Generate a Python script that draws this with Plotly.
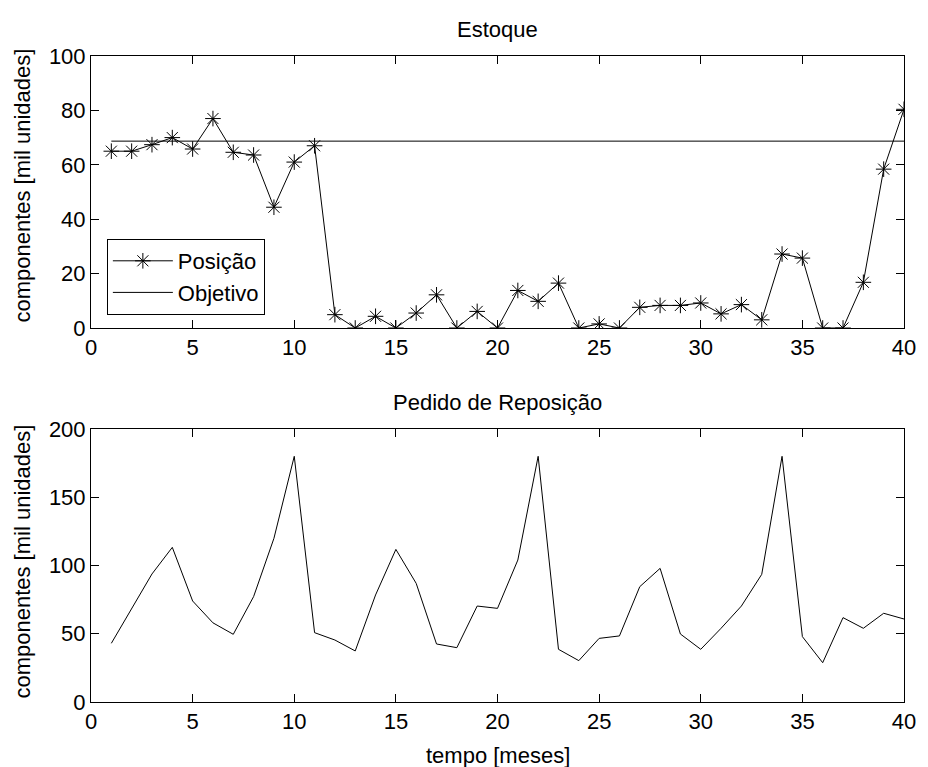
import plotly.graph_objects as go

meses = list(range(1, 41))
posicao = [65, 65, 67.4, 70, 65.8, 77, 64.6, 63.6, 44.4, 61,
           67, 4.9, 0, 4.3, 0, 5.5, 12.2, 0, 6.1, 0,
           13.8, 9.8, 16.5, 0, 1.5, 0, 7.6, 8.3, 8.3, 9.2,
           5.2, 8.6, 3.0, 27.2, 25.7, 0, 0, 16.8, 58.4, 80.4]
objetivo = 68.7
pedido = [43, 68.6, 93.8, 113.3, 74, 58, 49.6, 77.2, 119.9, 180,
          50.8, 45.4, 37.4, 78.4, 111.8, 86.9, 42.5, 39.8, 70.3, 68.6,
          104, 180, 38.6, 30.3, 46.6, 48.4, 84.5, 97.9, 49.8, 38.6,
          54, 70.3, 93.5, 180, 47.9, 28.8, 61.8, 54, 65, 60.8]

FONT = "Liberation Sans, Arial, sans-serif"
FS = 22

fig = go.Figure()
fig.add_trace(go.Scatter(x=meses, y=posicao, mode="lines+markers", name="Posição",
                         line=dict(color="black", width=1),
                         marker=dict(symbol="asterisk-open", size=13,
                                     line=dict(color="black", width=1)),
                         xaxis="x", yaxis="y"))
fig.add_trace(go.Scatter(x=[meses[0], meses[-1]], y=[objetivo, objetivo], mode="lines",
                         name="Objetivo", line=dict(color="black", width=1),
                         xaxis="x", yaxis="y"))
fig.add_trace(go.Scatter(x=meses, y=pedido, mode="lines", showlegend=False,
                         line=dict(color="black", width=1),
                         xaxis="x2", yaxis="y2"))

ax_common = dict(showline=True, linecolor="black", linewidth=1, mirror="ticks",
                 ticks="inside", ticklen=8, tickcolor="black", showgrid=False,
                 zeroline=False, tickfont=dict(family=FONT, size=FS, color="black"))

top_dom = [(702 - 328) / 646, 1.0]
bot_dom = [0.0, (702 - 429) / 646]

fig.update_layout(
    width=928, height=767,
    margin=dict(l=91, r=17, t=56, b=65),
    paper_bgcolor="white", plot_bgcolor="white",
    font=dict(family=FONT, size=FS, color="black"),
    xaxis=dict(domain=[0, 1], range=[0, 40], dtick=5, anchor="y", **ax_common),
    yaxis=dict(domain=top_dom, range=[0, 100], dtick=20, anchor="x", **ax_common),
    xaxis2=dict(domain=[0, 1], range=[0, 40], dtick=5, anchor="y2", **ax_common),
    yaxis2=dict(domain=bot_dom, range=[0, 200], dtick=50, anchor="x2", **ax_common),
    legend=dict(x=(107 - 91) / 820, y=(702 - 239) / 646, xanchor="left", yanchor="top",
                bgcolor="white", bordercolor="black", borderwidth=1,
                font=dict(family=FONT, size=FS, color="black"),
                itemwidth=60, tracegroupgap=0),
    showlegend=True,
)

ann = dict(xref="paper", yref="paper", showarrow=False,
           font=dict(family=FONT, size=FS, color="black"))
fig.add_annotation(text="Estoque", x=0.5, y=(702 - 30) / 646, yanchor="middle", **ann)
fig.add_annotation(text="Pedido de Reposição", x=0.5, y=(702 - 402) / 646, yanchor="middle", **ann)
fig.add_annotation(text="tempo [meses]", x=0.5, y=(702 - 755) / 646, yanchor="middle", **ann)
fig.add_annotation(text="componentes [mil unidades]", textangle=-90,
                   x=(21 - 91) / 820, y=(702 - 186) / 646, xanchor="center", yanchor="middle", **ann)
fig.add_annotation(text="componentes [mil unidades]", textangle=-90,
                   x=(21 - 91) / 820, y=(702 - 562) / 646, xanchor="center", yanchor="middle", **ann)

fig.write_html("out.html")
